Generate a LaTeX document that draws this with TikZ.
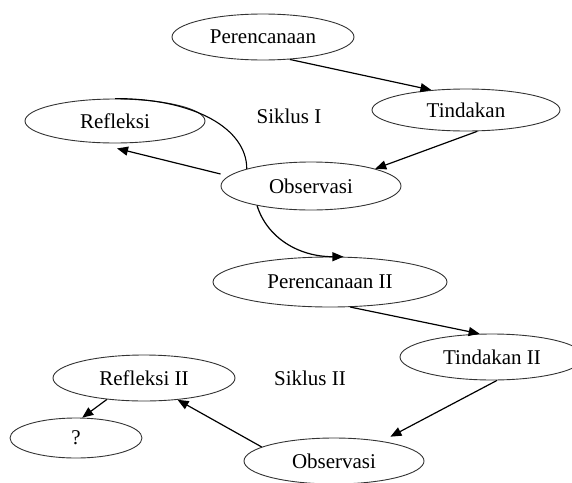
\documentclass[tikz,border=0pt]{standalone}
\usepackage{fontspec}
\setmainfont{Liberation Serif}
\usetikzlibrary{shapes.geometric,arrows.meta}
\begin{document}
\begin{tikzpicture}[x=1pt,y=-1pt,
  oval/.style={ellipse,draw=black!80,line width=0.9pt,inner sep=0pt,font=\fontsize{21}{24}\selectfont},
  lbl/.style={inner sep=0pt,font=\fontsize{21}{24}\selectfont},
  arr/.style={line width=1.2pt,-{Triangle[length=11pt,width=9pt]}},
  ln/.style={line width=1.1pt}]
\useasboundingbox (0,0) rectangle (572,482);
\node[oval,minimum width=182pt,minimum height=46pt] (per) at (263,37) {Perencanaan};
\node[oval,minimum width=188pt,minimum height=42pt] (tin) at (466,110) {Tindakan};
\node[oval,minimum width=180pt,minimum height=44pt] (ref) at (115,121) {Refleksi};
\node[lbl] (sik1) at (289,116) {Siklus I};
\node[oval,minimum width=180pt,minimum height=48pt] (obs1) at (311,186) {Observasi};
\node[oval,minimum width=234pt,minimum height=50pt] (per2) at (330,282) {Perencanaan II};
\node[oval,minimum width=184pt,minimum height=46pt] (tin2) at (492,357) {Tindakan II};
\node[oval,minimum width=182pt,minimum height=46pt] (ref2) at (144,378) {Refleksi II};
\node[lbl] (sik2) at (310,378) {Siklus II};
\node[oval,minimum width=132pt,minimum height=40pt] (q) at (76,438) {?};
\node[oval,minimum width=180pt,minimum height=46pt] (obs2) at (334,461) {Observasi};

\draw[arr] (per.-40) -- (tin.150);
\draw[arr] (tin.-62) -- (obs1.15);
\draw[arr] ([yshift=12pt]obs1.west) -- ([shift={(2pt,-5pt)}]ref.south);
\draw[ln] (ref.north) .. controls +(80,0) and +(0,-40) .. (obs1.165);
\draw[arr] (obs1.200) .. controls +(10,32) and +(-45,0) .. (per2.62);
\draw[arr] (per2.-51) -- (tin2.118);
\draw[arr] (tin2.-78) -- ([yshift=6pt]obs2.18);
\draw[arr] (obs2.169) -- (ref2.-33);
\draw[arr] (ref2.210) -- (q.73);
\end{tikzpicture}
\end{document}
